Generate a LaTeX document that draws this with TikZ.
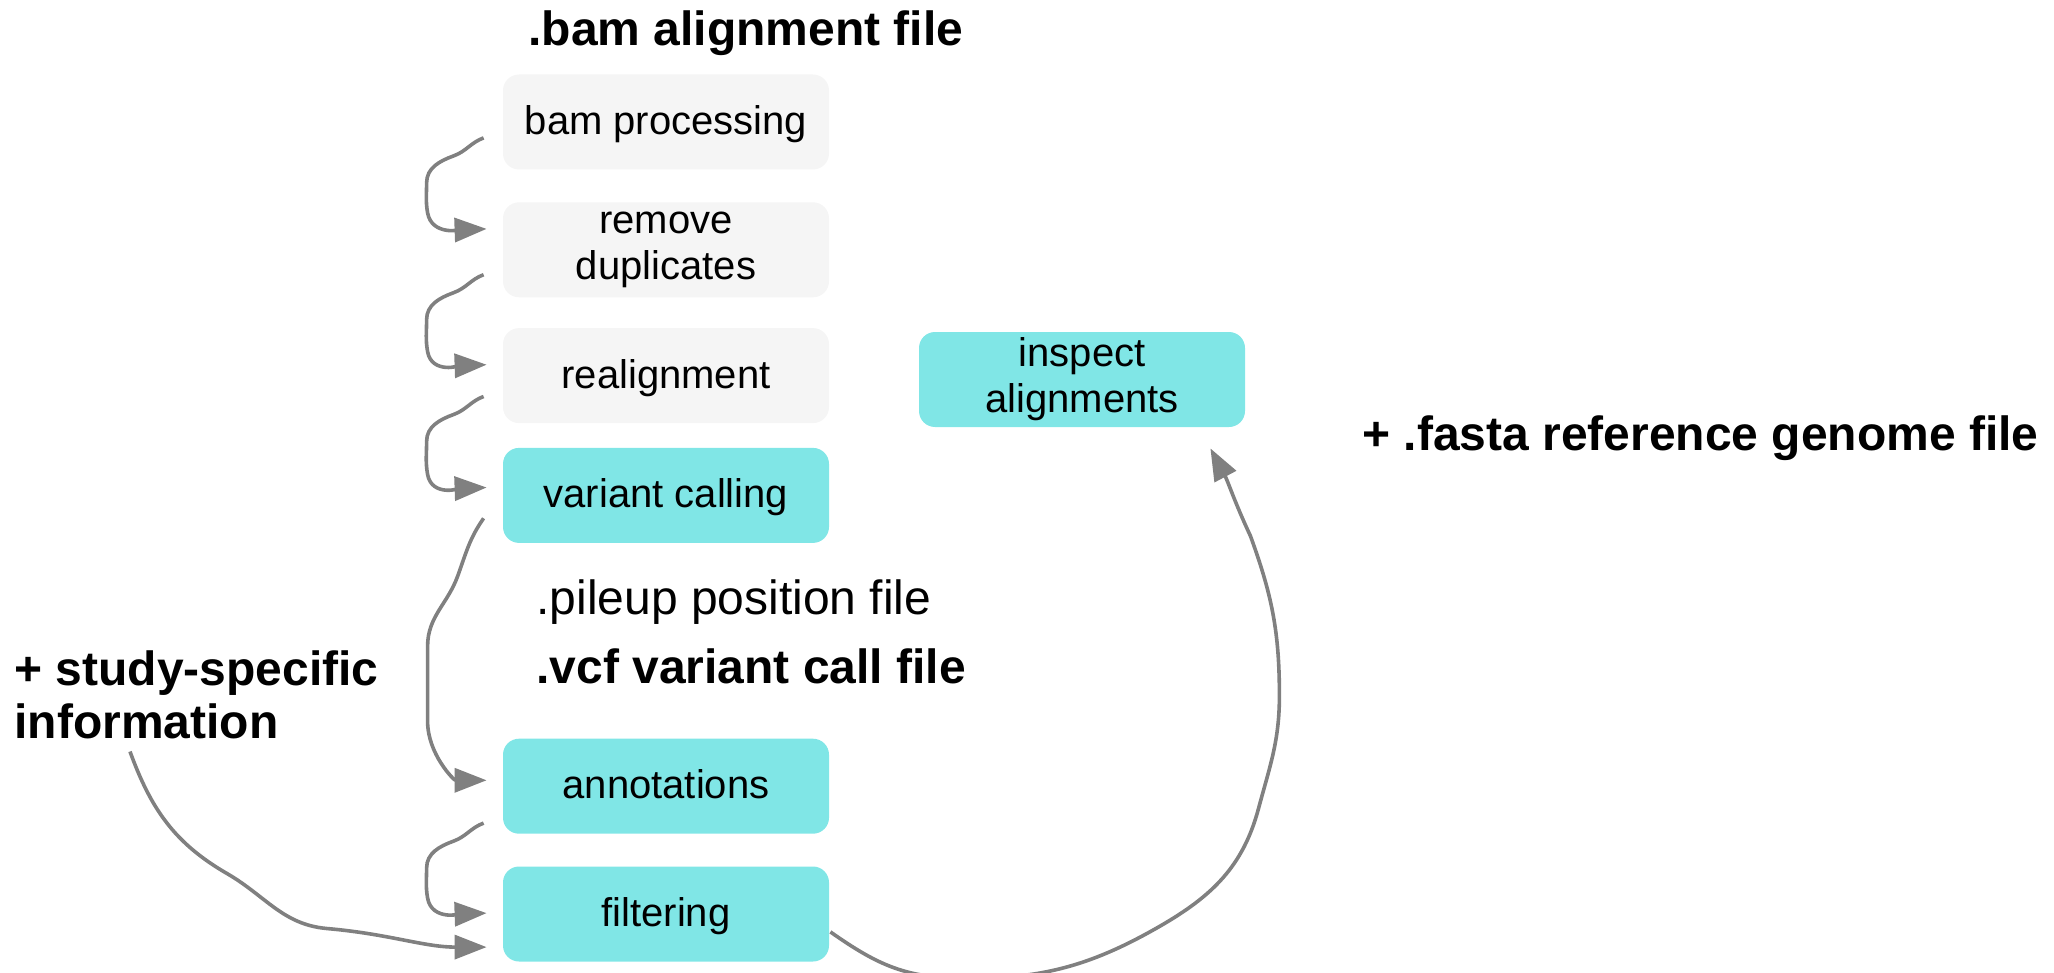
\documentclass[tikz,border=0pt]{standalone}
\usepackage{fontspec}
\setmainfont{Liberation Sans}
\usetikzlibrary{arrows.meta, positioning, calc}
\definecolor{stepgrey}{HTML}{F5F5F5}
\definecolor{stepcyan}{HTML}{80E6E6}
\definecolor{flowgrey}{HTML}{808080}
\tikzset{
  stepbox/.style={
    rectangle, rounded corners=8pt, fill=#1, draw=none,
    minimum width=163pt, minimum height=47.5pt, inner sep=0pt,
    text depth=2pt, font=\fontsize{20}{22.5}\selectfont
  },
  twolinebox/.style={
    rectangle, rounded corners=8pt, fill=#1, draw=none,
    minimum width=163pt, minimum height=47.5pt, inner sep=0pt,
    align=center, font=\fontsize{20}{23}\selectfont,
    execute at begin node={\rule{0pt}{17pt}}
  },
  filenote/.style={
    inner sep=0pt, anchor=west, align=left,
    font=\fontsize{24}{26.5}\selectfont
  },
  flow/.style={-{Triangle[length=16pt,width=12pt]}, line width=1.8pt,
    draw=flowgrey}
}

\begin{document}
\begin{tikzpicture}[x=0.5pt, y=0.5pt]
  \useasboundingbox (0,0) rectangle (2054,-973);

  % pipeline steps
  \node[stepbox=stepgrey] (bam) at (666,-122) {bam processing};
  \node[twolinebox=stepgrey, below=16pt of bam] (rmdup) {remove\\duplicates};
  \node[stepbox=stepgrey, below=15pt of rmdup] (realign) {realignment};
  \node[stepbox=stepcyan, below=12pt of realign] (varcall) {variant calling};
  \node[stepbox=stepcyan, below=97.5pt of varcall] (annot) {annotations};
  \node[stepbox=stepcyan, below=16pt of annot] (filter) {filtering};
  \node[twolinebox=stepcyan] (inspect) at (1082,-379.5) {inspect\\alignments};

  % file types and extra inputs
  \node[filenote, font=\fontsize{24}{26.5}\selectfont\bfseries] (bamfile)
    at (528,-33) {.bam alignment file};
  \node[filenote] (pileup) at (536,-602) {.pileup position file};
  \node[filenote, font=\fontsize{24}{26.5}\selectfont\bfseries] (vcffile)
    at (536,-666) {.vcf variant call file};
  \node[filenote, font=\fontsize{24}{26.5}\selectfont\bfseries] (study)
    at (14,-695) {+ study-specific\\information};
  \node[filenote, font=\fontsize{24}{26.5}\selectfont\bfseries] (fasta)
    at (1362,-438) {+ .fasta reference genome file};

  % hand-drawn hops between the steps
  \draw[flow] ($(bam.south west)+(-19,32)$) to[out=200,in=20] ++(-30,-18)
    to[out=200,in=90] ++(-27,-27) to[out=270,in=100] ++(1,-30)
    to[out=280,in=182] ($(rmdup.north west)+(-16,-27)$);
  \draw[flow] ($(rmdup.south west)+(-19,23)$) to[out=200,in=20] ++(-30,-18)
    to[out=200,in=90] ++(-27,-27) to[out=270,in=100] ++(1,-32)
    to[out=280,in=182] ($(realign.north west)+(-16,-37)$);
  \draw[flow] ($(realign.south west)+(-19,27)$) to[out=200,in=20] ++(-30,-18)
    to[out=200,in=90] ++(-27,-27) to[out=270,in=100] ++(1,-33)
    to[out=280,in=182] ($(varcall.north west)+(-16,-40)$);
  \draw[flow] ($(varcall.south west)+(-19,25)$) to[out=235,in=70] ++(-26,-58)
    to[out=250,in=90] ++(-30,-70) to[out=270,in=90] ++(0,-75)
    to[out=270,in=180] ($(annot.north west)+(-16,-42)$);
  \draw[flow] ($(annot.south west)+(-19,11)$) to[out=200,in=20] ++(-30,-18)
    to[out=200,in=90] ++(-27,-27) to[out=270,in=100] ++(1,-30)
    to[out=280,in=182] ($(filter.north west)+(-16,-47)$);
  \draw[flow] ($(study.south west)+(116,-12)$) to[out=290,in=150] ++(97,-122)
    to[out=-30,in=175] ++(100,-55) to[out=-5,in=180]
    ($(filter.north west)+(-16,-81)$);
  \draw[flow] ($(filter.south east)+(1,30)$) to[out=-35,in=178] ++(120,-46)
    to[out=-2,in=210] ++(210,52) to[out=30,in=255] ++(98,117)
    to[out=75,in=270] ++(21,113) to[out=90,in=290] ++(-29,160)
    to[out=115,in=298] ($(inspect.south east)+(-35,-21)$);
\end{tikzpicture}
\end{document}
